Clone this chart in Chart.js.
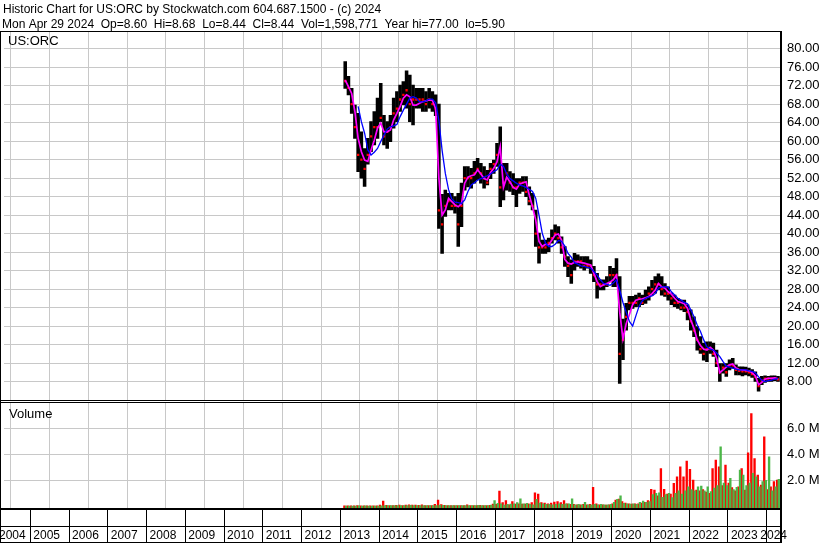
<!DOCTYPE html>
<html>
<head>
<meta charset="utf-8">
<title>US:ORC historic chart</title>
<script src="https://cdn.jsdelivr.net/npm/chart.js@4.4.1/dist/chart.umd.min.js"></script>
<style>
  html, body { margin: 0; padding: 0; background: #fff; }
</style>
</head>
<body>
<canvas id="chart" width="830" height="543"></canvas>
<script>
const title = "Historic Chart for US:ORC by Stockwatch.com 604.687.1500 - (c) 2024";
const quoteLine = "Mon Apr 29 2024  Op=8.60  Hi=8.68  Lo=8.44  Cl=8.44  Vol=1,598,771  Year hi=77.00  lo=5.90";
const symbol = "US:ORC";
const volumeLabel = "Volume";

// monthly samples, first one is Feb 2013
const startMonth = [2013, 2];

const high = [
  77.2, 74.0, 71.4, 67.8, 66.0, 62.0, 58.4, 60.6, 64.2, 66.4, 69.3,
  72.5, 65.6, 64.2, 65.6, 69.3, 70.7, 72.1, 72.9, 75.2, 74.3, 72.1, 71.4,
  71.4, 71.4, 70.7, 71.4, 70.7, 70.0, 68.0, 48.5, 49.4, 48.7, 48.7, 48.0,
  48.7, 50.9, 54.5, 54.5, 54.1, 55.6, 56.3, 55.2, 54.5, 53.7, 55.2, 55.9,
  59.5, 63.1, 55.2, 55.2, 53.4, 53.0, 51.9, 51.9, 52.3, 52.3, 50.1, 48.7,
  45.1, 40.1, 38.6, 38.6, 39.0, 40.8, 41.9, 41.5, 39.3, 37.2, 35.0, 34.3,
  35.7, 35.4, 35.0, 35.0, 35.0, 34.3, 32.9, 31.4, 30.0, 30.0, 30.7, 32.9,
  32.5, 34.6, 30.7, 21.5, 24.9, 26.4, 26.4, 26.7, 27.1, 26.7, 27.8, 28.5,
  29.9, 30.7, 31.3, 30.7, 29.2, 28.5, 27.1, 26.7, 26.0, 25.6, 25.6, 24.6,
  23.5, 22.0, 19.9, 17.7, 16.3, 16.6, 16.6, 16.3, 14.8, 11.9, 11.9, 11.9,
  12.7, 13.0, 11.6, 11.2, 11.2, 11.1, 10.9, 10.6, 10.1, 8.7, 9.1, 9.2,
  9.1, 9.2, 9.2, 9.1
];
const low = [
  71.4, 70.0, 66.0, 60.6, 53.4, 52.0, 50.2, 55.0, 57.7, 59.2, 60.6,
  64.2, 59.2, 58.4, 59.9, 62.8, 64.2, 66.4, 67.8, 67.1, 64.2, 63.5, 67.1,
  67.1, 66.4, 66.4, 67.1, 66.4, 65.5, 41.1, 35.7, 43.7, 45.1, 45.1, 44.4,
  37.2, 41.5, 49.4, 50.1, 49.8, 50.9, 51.6, 50.9, 49.8, 50.5, 51.9, 53.0,
  54.5, 45.8, 47.3, 49.4, 49.1, 48.4, 45.8, 48.7, 49.1, 48.0, 46.2, 45.1,
  37.2, 33.6, 35.7, 35.7, 36.1, 37.9, 38.6, 37.9, 35.7, 32.9, 30.7, 29.2,
  32.1, 32.9, 32.5, 32.1, 32.5, 31.4, 29.6, 26.0, 27.8, 27.8, 28.5, 29.6,
  28.5, 28.5, 7.6, 12.7, 19.1, 23.5, 23.8, 24.2, 24.2, 24.6, 24.9, 25.6,
  26.7, 27.1, 27.8, 26.7, 26.4, 25.6, 24.6, 24.2, 23.8, 23.5, 23.1, 21.3,
  19.1, 17.7, 14.8, 14.1, 12.6, 12.3, 14.1, 13.4, 11.2, 8.0, 9.8, 9.1,
  10.5, 10.9, 9.4, 9.4, 9.2, 9.4, 9.2, 8.9, 8.0, 5.9, 7.3, 7.8,
  8.0, 8.0, 8.2, 8.0
];
const close = [
  73.0, 71.5, 68.0, 63.0, 57.0, 56.0, 54.0, 57.0, 61.0, 63.0, 63.0,
  65.0, 61.0, 62.0, 63.0, 66.0, 67.0, 69.0, 70.0, 71.0, 68.0, 69.0, 69.0,
  69.0, 69.0, 68.0, 69.0, 68.0, 67.0, 45.0, 42.0, 46.0, 47.0, 46.0, 46.0,
  42.0, 46.0, 52.0, 52.0, 52.0, 53.0, 54.0, 53.0, 52.0, 51.0, 54.0, 55.0,
  57.0, 50.0, 51.0, 53.0, 51.0, 50.0, 50.0, 51.0, 51.0, 49.0, 47.0, 46.0,
  40.0, 37.0, 37.0, 37.0, 38.0, 39.0, 40.0, 39.0, 37.0, 35.0, 33.0, 31.0,
  34.0, 34.0, 34.0, 33.0, 33.0, 33.0, 31.0, 29.0, 29.0, 29.0, 29.0, 31.0,
  31.0, 31.0, 14.0, 17.0, 22.0, 25.0, 25.0, 25.0, 26.0, 25.0, 26.0, 27.0,
  28.0, 29.0, 29.0, 28.0, 27.0, 27.0, 26.0, 25.0, 25.0, 24.0, 24.0, 23.0,
  21.0, 19.0, 17.0, 15.0, 14.0, 15.0, 15.0, 14.0, 12.0, 10.0, 11.0, 10.0,
  11.5, 11.5, 10.5, 10.3, 10.2, 10.2, 10.0, 9.6, 9.0, 7.0, 8.2, 8.6,
  8.6, 8.6, 8.7, 8.44
];
// short moving average (magenta)
const avgShort = [
  73.2, 71.8, 70.3, 66.4, 60.6, 57.7, 55.9, 55.6, 58.1, 60.2, 62.8,
  63.9, 62.0, 62.0, 62.4, 64.6, 66.0, 67.5, 69.3, 70.0, 69.6, 67.8, 67.8,
  68.2, 68.5, 68.7, 68.9, 68.8, 67.0, 52.0, 44.0, 45.1, 47.6, 46.9, 46.2,
  45.8, 46.5, 50.9, 52.2, 52.5, 52.7, 53.8, 52.9, 51.9, 51.6, 53.2, 54.1,
  55.5, 58.8, 50.0, 52.2, 51.2, 50.0, 49.6, 50.7, 51.0, 51.2, 48.3, 45.8,
  42.9, 38.3, 37.2, 37.7, 37.5, 38.6, 39.7, 39.9, 38.6, 34.4, 33.6, 33.4,
  33.8, 33.9, 33.7, 33.6, 33.4, 33.2, 31.4, 29.6, 28.5, 28.9, 29.2, 29.5,
  30.0, 31.0, 23.0, 17.2, 20.5, 22.5, 24.6, 25.6, 25.8, 25.9, 26.1, 26.4,
  27.0, 27.8, 29.2, 28.5, 28.2, 27.4, 26.9, 26.0, 25.3, 25.1, 24.8, 23.8,
  21.3, 19.5, 17.0, 15.8, 15.0, 14.8, 15.4, 14.8, 13.0, 9.9, 10.5, 11.1,
  11.6, 11.8, 10.9, 10.6, 10.5, 10.4, 10.3, 9.9, 9.2, 7.3, 7.8, 8.5,
  8.7, 8.7, 8.8, 8.6
];
// long moving average (blue)
const avgLong = [
  null, null, null, null, 67.5, 64.2, 61.7, 58.1, 57.0, 57.6, 58.4,
  59.9, 61.3, 62.6, 63.1, 63.3, 63.6, 65.3, 66.7, 68.0, 69.3, 69.6, 69.3,
  68.5, 68.5, 68.7, 69.1, 69.1, 68.3, 64.5, 58.0, 53.0, 49.5, 47.5, 46.8,
  46.7, 46.5, 47.3, 49.1, 50.5, 51.0, 51.6, 51.9, 52.2, 52.5, 52.9, 53.4,
  53.8, 55.0, 54.5, 52.9, 51.9, 51.4, 50.9, 50.5, 50.3, 50.0, 49.6, 49.1,
  47.6, 44.0, 40.1, 38.0, 37.2, 37.2, 37.7, 38.5, 38.3, 37.3, 35.7, 34.9,
  33.7, 33.4, 33.0, 32.9, 32.7, 32.5, 31.8, 31.0, 30.0, 29.2, 29.0, 28.8,
  29.3, 30.0, 27.8, 25.1, 23.0, 21.0, 20.0, 22.2, 24.3, 25.5, 26.0, 26.3,
  26.5, 27.0, 28.2, 28.4, 28.5, 28.4, 27.4, 26.7, 26.0, 25.6, 25.1, 24.8,
  23.5, 22.0, 20.2, 18.8, 17.0, 15.5, 15.0, 14.8, 14.2, 13.4, 12.3, 11.3,
  11.1, 10.9, 10.7, 10.5, 10.5, 10.5, 10.3, 10.2, 9.9, 9.0, 8.3, 8.0,
  8.2, 8.3, 8.5, 8.6
];
// volume in millions, down days (red) and up days (green)
const volDown = [
  0.03, 0.03, 0.03, 0.04, 0.05, 0.03, 0.04, 0.03, 0.03, 0.03, 0.04,
  0.10, 0.41, 0.08, 0.06, 0.06, 0.08, 0.10, 0.06, 0.10, 0.12, 0.10, 0.10,
  0.08, 0.12, 0.06, 0.06, 0.06, 0.15, 0.49, 0.14, 0.08, 0.06, 0.06, 0.06,
  0.06, 0.06, 0.06, 0.12, 0.06, 0.05, 0.05, 0.07, 0.06, 0.06, 0.08, 0.18,
  0.15, 1.18, 0.28, 0.44, 0.12, 0.36, 0.18, 0.20, 0.18, 0.18, 0.20, 0.28,
  1.05, 0.95, 0.28, 0.25, 0.20, 0.25, 0.33, 0.36, 0.28, 0.44, 0.20, 0.15,
  0.15, 0.12, 0.12, 0.15, 0.12, 0.15, 1.46, 0.20, 0.12, 0.12, 0.10, 0.12,
  0.20, 0.49, 0.55, 0.36, 0.25, 0.20, 0.18, 0.20, 0.20, 0.25, 0.30, 0.45,
  1.31, 1.26, 0.80, 2.92, 1.31, 0.95, 0.95, 1.77, 2.28, 3.05, 2.28, 3.49,
  2.85, 2.03, 1.26, 1.20, 1.30, 1.10, 1.00, 2.92, 3.56, 3.05, 1.60, 3.18,
  1.80, 1.44, 1.20, 1.50, 2.92, 1.26, 4.13, 7.15, 3.69, 2.41, 1.64, 5.36,
  1.30, 1.51, 1.90, 2.03
];
const volUp = [
  0.02, 0.02, 0.02, 0.02, 0.03, 0.02, 0.03, 0.02, 0.02, 0.02, 0.02,
  0.04, 0.05, 0.05, 0.05, 0.06, 0.06, 0.05, 0.06, 0.06, 0.08, 0.06, 0.05,
  0.05, 0.05, 0.05, 0.05, 0.05, 0.06, 0.10, 0.08, 0.05, 0.05, 0.05, 0.05,
  0.05, 0.05, 0.05, 0.05, 0.06, 0.06, 0.07, 0.05, 0.05, 0.06, 0.10, 0.44,
  0.23, 0.20, 0.10, 0.15, 0.18, 0.20, 0.28, 0.57, 0.20, 0.23, 0.15, 0.12,
  0.54, 0.25, 0.20, 0.15, 0.15, 0.12, 0.15, 0.20, 0.15, 0.20, 0.20, 0.57,
  0.12, 0.15, 0.12, 0.31, 0.12, 0.12, 0.15, 0.12, 0.15, 0.12, 0.12, 0.15,
  0.30, 0.54, 0.80, 0.23, 0.20, 0.18, 0.20, 0.15, 0.30, 0.40, 0.30, 0.36,
  0.90, 1.00, 1.05, 0.70, 0.90, 1.00, 0.67, 1.00, 1.20, 0.95, 1.20, 1.50,
  1.30, 1.20, 1.50, 1.56, 1.20, 1.51, 1.13, 1.40, 1.60, 4.59, 1.80, 1.60,
  2.15, 1.30, 1.46, 2.80, 2.41, 1.60, 1.80, 2.54, 2.28, 1.50, 1.90, 2.00,
  3.82, 1.20, 1.50, 2.08
];

const yearLabels = [2004, 2005, 2006, 2007, 2008, 2009, 2010, 2011, 2012, 2013, 2014,
  2015, 2016, 2017, 2018, 2019, 2020, 2021, 2022, 2023, 2024];
const priceTicks = [8, 12, 16, 20, 24, 28, 32, 36, 40, 44, 48, 52, 56, 60, 64, 68, 72, 76, 80];
const volumeTicks = [2, 4, 6];

const FONT = '"Liberation Sans", Arial, sans-serif';

// month index -> decimal year (middle of month)
const tx = high.map((_, i) => {
  const m = startMonth[1] - 1 + i;
  return startMonth[0] + Math.floor(m / 12) + ((m % 12) + 0.5) / 12;
});
const pts = (arr, shift) => arr.map((v, i) => ({ x: tx[i] + (shift || 0), y: v }));

const decor = {
  id: 'decor',
  afterDraw(chart) {
    const { ctx, chartArea: a } = chart;
    const xs = chart.scales.x;
    const align = p => Math.round(p - 0.5) + 0.5;
    ctx.save();
    // gap between the panels
    ctx.fillStyle = '#fff';
    ctx.fillRect(0, 400, a.right, 3);
    ctx.fillStyle = '#000';
    ctx.fillRect(0, 31, a.right + 1, 1);
    ctx.fillRect(0, 400, a.right, 1);
    ctx.fillRect(0, 402, a.right, 1);
    ctx.fillRect(0, 508, a.right, 2);
    ctx.fillRect(0, 526, a.right, 1);
    ctx.fillRect(0, 542, a.right, 1);
    ctx.fillRect(0, 31, 1, 512);
    ctx.fillRect(a.right - 1, 31, 2, 512);

    ctx.strokeStyle = '#000';
    ctx.lineWidth = 1;
    ctx.beginPath();
    yearLabels.slice(1).forEach(y => {
      const px = align(xs.getPixelForValue(y));
      ctx.moveTo(px, 510);
      ctx.lineTo(px, 543);
    });
    ctx.stroke();

    ctx.font = '12px ' + FONT;
    ctx.textBaseline = 'alphabetic';
    ctx.textAlign = 'left';
    yearLabels.forEach((y, i) => {
      const s = String(y);
      let px = xs.getPixelForValue(y) + 3;
      if (i === 0) px = Math.max(px, -1);
      if (i === yearLabels.length - 1) px = Math.min(px, 787 - ctx.measureText(s).width);
      ctx.fillText(s, px, 539);
    });

    ctx.fillText(title, 3, 13);
    ctx.fillText(quoteLine, 2, 28);
    ctx.font = '13px ' + FONT;
    ctx.fillText(symbol, 8, 45);
    ctx.fillText(volumeLabel, 9, 418);
    ctx.restore();
  }
};

new Chart(document.getElementById('chart'), {
  type: 'bar',
  data: {
    datasets: [
      {
        type: 'line', data: pts(avgLong), yAxisID: 'y', order: 1,
        borderColor: '#0000ff', borderWidth: 1.3, pointRadius: 0, tension: 0, spanGaps: false
      },
      {
        type: 'line', data: pts(avgShort), yAxisID: 'y', order: 2,
        borderColor: '#ff00ff', borderWidth: 1.7, pointRadius: 0, tension: 0
      },
      {
        type: 'line', data: pts(close), yAxisID: 'y', order: 3, showLine: false,
        pointStyle: 'rect', pointRadius: 1.6, pointBackgroundColor: '#ff0000', pointBorderWidth: 0
      },
      {
        type: 'bar', data: tx.map((x, i) => ({ x, y: [low[i], high[i]] })), yAxisID: 'y', order: 4,
        backgroundColor: '#000000', barThickness: 2.9, grouped: false
      },
      {
        type: 'bar', data: pts(volUp, 1 / 48), yAxisID: 'v', order: 5,
        backgroundColor: '#4cb648', barThickness: 1.7, grouped: false, base: -0.13
      },
      {
        type: 'bar', data: pts(volDown, -1 / 48), yAxisID: 'v', order: 6,
        backgroundColor: '#ff0000', barThickness: 1.7, grouped: false, base: -0.13
      }
    ]
  },
  options: {
    responsive: false,
    animation: false,
    devicePixelRatio: 1,
    events: [],
    layout: { padding: { top: 32, left: 1, right: 0, bottom: 0 } },
    plugins: { legend: { display: false }, tooltip: { enabled: false } },
    scales: {
      x: {
        type: 'linear', min: 2004.32, max: 2024.37, offset: false,
        afterBuildTicks: s => { s.ticks = yearLabels.slice(1).map(v => ({ value: v })); },
        afterFit: s => { s.height = 35; },
        ticks: { display: false },
        grid: { color: '#c8c8c8', drawTicks: false },
        border: { display: false }
      },
      y: {
        position: 'right', stack: 'panels', stackWeight: 369.5, weight: 0,
        min: 3.674, max: 83.6,
        afterBuildTicks: s => { s.ticks = priceTicks.map(v => ({ value: v })); },
        afterFit: s => { s.width = 49; },
        ticks: {
          autoSkip: false, padding: 6, color: '#000',
          font: { family: FONT, size: 13 },
          callback: v => Number(v).toFixed(2)
        },
        grid: { color: '#c8c8c8', drawTicks: false },
        border: { display: false }
      },
      v: {
        position: 'right', stack: 'panels', stackWeight: 106.5, weight: 1,
        min: -0.13, max: 8.088,
        afterBuildTicks: s => { s.ticks = volumeTicks.map(v => ({ value: v })); },
        afterFit: s => { s.width = 49; },
        ticks: {
          autoSkip: false, padding: 6, color: '#000',
          font: { family: FONT, size: 13 },
          callback: v => Number(v).toFixed(1) + ' M'
        },
        grid: { color: '#c8c8c8', drawTicks: false },
        border: { display: false }
      }
    }
  },
  plugins: [decor]
});
</script>
</body>
</html>
